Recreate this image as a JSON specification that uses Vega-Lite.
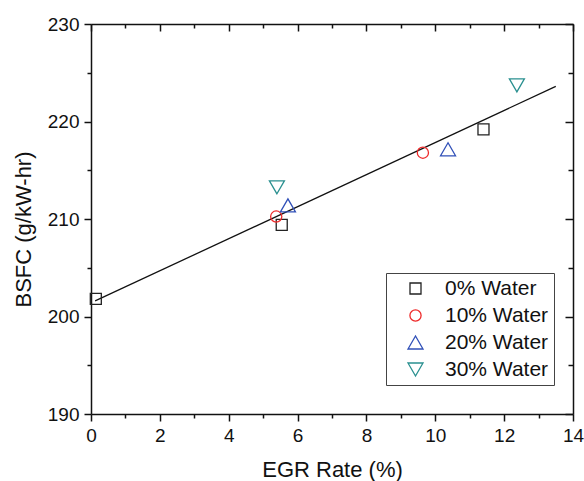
{
  "$schema": "https://vega.github.io/schema/vega-lite/v6.json",
  "width": 482,
  "height": 390,
  "autosize": "none",
  "padding": {"left": 91, "top": 24, "right": 11, "bottom": 67},
  "background": "white",
  "config": {
    "view": {"stroke": null},
    "font": "Liberation Sans",
    "axis": {"grid": false, "domainColor": "#111", "tickColor": "#111", "domainWidth": 1.5, "tickWidth": 1.5, "labelColor": "#111", "titleColor": "#111", "labelFont": "Liberation Sans", "titleFont": "Liberation Sans", "titleFontWeight": "normal"}
  },
  "layer": [
    {
      "data": {"values": [{"egr": 0.12, "bsfc": 201.6}, {"egr": 13.5, "bsfc": 223.6}]},
      "mark": {"type": "line", "color": "#111", "strokeWidth": 1.3},
      "encoding": {
        "x": {"field": "egr", "type": "quantitative", "scale": {"domain": [0, 14], "nice": false, "zero": false},
          "axis": {"orient": "top", "values": [0,1,2,3,4,5,6,7,8,9,10,11,12,13,14], "labels": false, "title": null,
            "tickSize": {"condition": {"test": "datum.value % 2 === 0", "value": -7}, "value": -4}}},
        "y": {"field": "bsfc", "type": "quantitative", "scale": {"domain": [190, 230], "nice": false, "zero": false},
          "axis": {"orient": "right", "values": [190,195,200,205,210,215,220,225,230], "labels": false, "title": null,
            "tickSize": {"condition": {"test": "datum.value % 10 === 0", "value": -8}, "value": -5}}}
      }
    },
    {
      "data": {"values": [
        {"egr": 0.14, "bsfc": 201.8, "series": "0% Water"},
        {"egr": 5.54, "bsfc": 209.4, "series": "0% Water"},
        {"egr": 11.40, "bsfc": 219.2, "series": "0% Water"},
        {"egr": 5.38, "bsfc": 210.25, "series": "10% Water"},
        {"egr": 9.64, "bsfc": 216.8, "series": "10% Water"},
        {"egr": 5.72, "bsfc": 211.4, "series": "20% Water"},
        {"egr": 10.37, "bsfc": 217.15, "series": "20% Water"},
        {"egr": 5.40, "bsfc": 213.25, "series": "30% Water"},
        {"egr": 12.37, "bsfc": 223.7, "series": "30% Water"}
      ]},
      "mark": {"type": "point", "filled": false, "strokeWidth": 1.3, "opacity": 1},
      "encoding": {
        "x": {"field": "egr", "type": "quantitative", "scale": {"domain": [0, 14], "nice": false, "zero": false},
          "axis": {"orient": "bottom", "values": [0,1,2,3,4,5,6,7,8,9,10,11,12,13,14], "title": "EGR Rate (%)",
            "labelExpr": "datum.value % 2 === 0 ? datum.label : ''", "labelOverlap": false, "labelFlush": false,
            "labelFontSize": 19, "titleFontSize": 22, "labelPadding": 5, "titlePadding": 14,
            "tickSize": {"condition": {"test": "datum.value % 2 === 0", "value": 7}, "value": 4}}},
        "y": {"field": "bsfc", "type": "quantitative", "scale": {"domain": [190, 230], "nice": false, "zero": false},
          "axis": {"orient": "left", "values": [190,195,200,205,210,215,220,225,230], "title": "BSFC (g/kW-hr)",
            "labelExpr": "datum.value % 10 === 0 ? datum.label : ''", "labelOverlap": false, "labelFlush": false,
            "labelFontSize": 19, "titleFontSize": 22, "labelPadding": 5, "titlePadding": 12, "titleY": 205,
            "tickSize": {"condition": {"test": "datum.value % 10 === 0", "value": 7}, "value": 4}}},
        "shape": {"field": "series", "type": "nominal",
          "scale": {"domain": ["0% Water", "10% Water", "20% Water", "30% Water"], "range": ["square", "circle", "triangle-up", "triangle-down"]},
          "legend": {"title": null, "orient": "none", "legendX": 295, "legendY": 249, "strokeColor": "#444", "fillColor": "white",
            "padding": 5, "symbolOffset": 14, "labelOffset": 19, "labelFontSize": 21, "labelColor": "#111", "labelFont": "Liberation Sans", "rowPadding": 5, "symbolStrokeWidth": 1.3, "symbolFillColor": "transparent",
            "encode": {"legend": {"update": {"strokeWidth": {"value": 1.5}}}}}},
        "color": {"field": "series", "type": "nominal",
          "scale": {"domain": ["0% Water", "10% Water", "20% Water", "30% Water"], "range": ["#222222", "#ee2a2a", "#3050b8", "#2a9090"]}},
        "size": {"field": "series", "type": "nominal",
          "scale": {"type": "ordinal", "domain": ["0% Water", "10% Water", "20% Water", "30% Water"], "range": [121, 125, 225, 225]}}
      }
    }
  ],
  "resolve": {"axis": {"x": "independent", "y": "independent"}}
}
